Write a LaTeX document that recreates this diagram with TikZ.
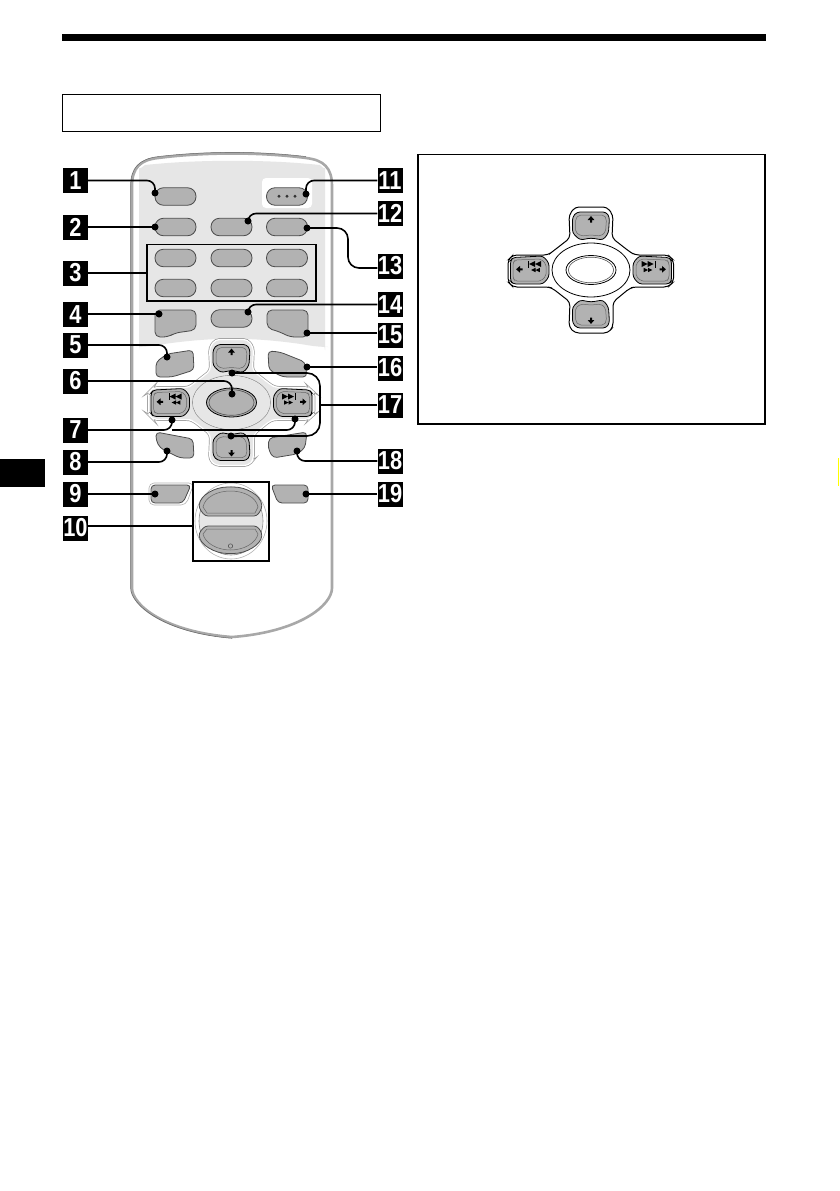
\documentclass[tikz,border=0pt]{standalone}
\usepackage{fontspec}
\setmainfont{Liberation Sans}
\definecolor{btn}{HTML}{B2B2B2}
\definecolor{pan}{HTML}{E6E6E6}
\definecolor{edge}{HTML}{A8A8A8}
\definecolor{tabyellow}{HTML}{FFFF00}
\tikzset{
  num/.style={fill=black,text=white,minimum width=25pt,minimum height=25pt,inner sep=0pt,font=\bfseries\fontsize{26}{26}\selectfont},
  pill/.style={draw=black!70,line width=.8pt,fill=btn,rounded corners=8.5pt,minimum width=41pt,minimum height=17.5pt,inner sep=0pt},
  shaped/.style={draw=black!70,line width=.8pt,fill=btn,rounded corners=3pt},
  dot/.style={circle,fill=black,minimum size=7pt,inner sep=0pt},
  leader/.style={line width=1.6pt,rounded corners=8pt},
  frame/.style={draw=black,line width=1.3pt},
}
\newcommand{\numnode}[4]{\node[num] (#1) at (#2,#3) {\scalebox{.84}[1]{#4}};}
\newcommand{\arrU}[2]{\fill[shift={(#1,#2)}] (-3.4,.7)--(0,-3.2)--(3.4,.7)--(1,.7)--(1,3.2)--(-1,3.2)--(-1,.7)--cycle;}
\newcommand{\arrD}[2]{\fill[shift={(#1,#2)}] (-3.4,-.7)--(0,3.2)--(3.4,-.7)--(1,-.7)--(1,-3.2)--(-1,-3.2)--(-1,-.7)--cycle;}
\newcommand{\arrL}[2]{\fill[shift={(#1,#2)}] (.7,-3.4)--(-3.2,0)--(.7,3.4)--(.7,1)--(3.2,1)--(3.2,-1)--(.7,-1)--cycle;}
\newcommand{\arrR}[2]{\fill[shift={(#1,#2)}] (-.7,-3.4)--(3.2,0)--(-.7,3.4)--(-.7,1)--(-3.2,1)--(-3.2,-1)--(-.7,-1)--cycle;}
% x, y, size, direction
\newcommand{\dbl}[4]{\fill[shift={(#1,#2)},scale=#3,xscale=#4] (0,-3)--(-6,0)--(0,3)--cycle (6,-3)--(0,0)--(6,3)--cycle;}
% cx, cy, ring fill, outline colour, mode (1 main, 0 inset), oval fill
\newcommand{\pad}[6]{%
\begin{scope}[shift={(#1,#2)}]
 \def\padoutline{(-21,-32)--(-22,-55)--(-16,-63)--(16,-63)--(22,-55)--(21,-32)--(39,-18)--(44,-15)--(77,-15)--(82.5,-10)--(82.5,12)--(77,17)--(44,17)--(39,18)--(22,32)--(22,57)--(17,63)--(-16,63)--(-22,57)--(-21,32)--(-39,18)--(-43,17)--(-78,17)--(-83,12)--(-83,-10)--(-78,-15)--(-43,-15)--(-39,-18)--cycle}
 \ifnum#5=1
  \draw[draw=#4,line width=2.6pt,rounded corners=4pt] \padoutline;
  \draw[draw=white,line width=1.2pt,fill=#3,rounded corners=4pt] \padoutline;
 \else
  \draw[draw=#4,line width=1pt,fill=#3,rounded corners=4pt] \padoutline;
 \fi
 \draw[draw=#4,line width=.8pt,fill=white] (0,0) ellipse (39 and 27);
 \ifnum#5=1 \fill[pan] (0,0) ellipse (38.5 and 26.5);\fi
 \draw[draw=black,line width=.8pt,fill=#6] (0,0) ellipse (25 and 14.5);
 \draw[draw=black!70,line width=.6pt] (0,0) ellipse (22.5 and 12.8);
 \foreach \s/\t in {1/1,1/-1}{
  \draw[shaped,draw=black,yscale=\t] (-14,-58)--(15,-58)--(18.5,-53)--(17.5,-37)--(12,-30)--(0,-32)--(-11,-30)--(-18.5,-37)--(-18.5,-53)--cycle;
  \draw[draw=black!60,line width=.5pt,rounded corners=2pt,yscale=\t] (-12,-55)--(13,-55)--(15.5,-51)--(14.5,-38)--(10,-34)--(0,-35)--(-10,-34)--(-15.5,-38)--(-15.5,-51)--cycle;
  \draw[shaped,draw=black,xscale=\t] (-78,-12.5)--(-48,-14)--(-42,-7)--(-42,7)--(-48,14)--(-78,14)--(-80.5,11)--(-80.5,-9.5)--cycle;
  \draw[draw=black!60,line width=.5pt,rounded corners=2pt,xscale=\t] (-76,-10)--(-50,-11)--(-45,-6)--(-45,6)--(-50,11)--(-76,11)--(-78,8)--(-78,-7)--cycle;
 }
 \arrU{0}{-50.7}\arrD{0}{50.7}\arrL{-71.7}{-.7}\arrR{71.7}{-.7}
 \dbl{-56}{-6}{1}{1}\dbl{56.5}{-6}{1}{-1}
 \dbl{-55.5}{0}{.72}{1}\dbl{57}{0}{.72}{-1}
 \fill (-63,-9.5) rectangle (-62,-2.5);
 \fill (63.5,-9.5) rectangle (64.5,-2.5);
\end{scope}}
\begin{document}
\begin{tikzpicture}[x=1pt,y=-1pt]
\useasboundingbox (0,0) rectangle (839,1191);
% page furniture
\fill (62,34) rectangle (766,41);
\draw[line width=.9pt] (62.5,94) rectangle (380,131);
\fill (0,459) rectangle (45,487);
\fill[tabyellow] (837.6,458) rectangle (839,486);
\draw[frame,line width=1.4pt] (418,154.5) rectangle (765,424);
% remote body
\draw[draw=edge,line width=2.6pt,fill=white] (132,186) .. controls (132,168) and (140,160) .. (158,158) .. controls (205,152) and (260,152) .. (306,158) .. controls (324,160) and (332,168) .. (332,186) -- (332,588) .. controls (332,605) and (300,632) .. (232,637) .. controls (165,632) and (132,605) .. (132,588) -- cycle;
\draw[draw=black!60,line width=.5pt] (130.6,186) .. controls (130.6,168) and (139,159) .. (158,156.6) .. controls (205,151) and (260,151) .. (306,156.6);
\draw[draw=black!60,line width=.5pt] (130.6,186) -- (130.6,588) .. controls (130.6,605) and (165,633) .. (232,638.3);
% panel
\fill[pan,rounded corners=10pt] (139,178) .. controls (139,170) and (145,165) .. (155,164) .. controls (205,160) and (260,160) .. (310,164) .. controls (320,165) and (325,170) .. (325,178) -- (325,340) .. controls (325,345) and (322,347) .. (318,347) .. controls (290,342) and (260,339) .. (232,339) .. controls (205,339) and (175,342) .. (146,347) .. controls (142,347) and (139,345) .. (139,340) -- cycle;
\fill[white,rounded corners=4pt] (262,178) rectangle (312,208);
% main pill buttons
\node[pill] (b1) at (175.5,196.5) {};
\node[pill] (b11) at (287,196.5) {};
\foreach \x in {-8,0,8} \fill[black!80] (287+\x,194.6) -- +(1.6,1.6) -- +(0,3.2) -- +(-1.6,1.6) -- cycle;
\node[pill] (b2) at (175.5,227) {};
\node[pill] (b12) at (231.5,227) {};
\node[pill] (b13) at (287,227) {};
\node[pill] (c1) at (175.5,258) {};
\node[pill] (c2) at (231.5,258) {};
\node[pill] (c3) at (287,258) {};
\node[pill] (c4) at (175.5,288) {};
\node[pill] (c5) at (231.5,288) {};
\node[pill] (c6) at (287,288) {};
\node[pill] (b14) at (231.5,318.5) {};
\draw[frame] (147,244.5) rectangle (316,301);
\draw[shaped,rounded corners=5pt] (155,310)--(196,310)--(196,330)--(175,333)--(168,337)--(155,337)--cycle;
\draw[shaped,rounded corners=5pt] (267,310)--(308,310)--(308,337)--(290,337)--(280,332)--(267,328)--cycle;
\draw[shaped,rounded corners=4pt] (156,377)--(156,362)--(167,354)--(193,350)--(194,370)--(172,377)--cycle;
\draw[shaped,rounded corners=4pt] (268,351)--(280,352)--(305,362)--(307,377)--(283,377)--(269,370)--cycle;
% d-pad
\pad{231.5}{402.5}{pan}{black!40}{1}{btn}
\draw[shaped,rounded corners=4pt] (156,432)--(193,439)--(194,458)--(180,458)--(160,448)--(156,440)--cycle;
\draw[shaped,rounded corners=4pt] (269,438)--(307,432)--(305,448)--(297,454)--(273,458)--(268,448)--cycle;
% lower row
\draw[draw=black!30,line width=.6pt,rounded corners=5pt] (149,483)--(194,483)--(186,505)--(149,505)--cycle;
\draw[shaped,rounded corners=4pt] (151,485)--(191,485)--(183,503)--(151,503)--cycle;
\draw[shaped,rounded corners=4pt] (271,485)--(308,485)--(308,503)--(278,503)--cycle;
% volume
\draw[draw=black!30,line width=.6pt] (231,521) ellipse (36 and 38);
\draw[draw=black!45,line width=.6pt,fill=pan] (231,521) ellipse (32 and 34);
\draw[shaped] (199,508) .. controls (200,495) and (215,487) .. (230.5,487) .. controls (246,487) and (261,495) .. (262,508) -- (257,516) -- (205,516) -- cycle;
\draw[shaped] (205,526) -- (257,526) -- (262,533) .. controls (261,545) and (246,553.5) .. (230.5,553.5) .. controls (215,553.5) and (200,545) .. (199,533) -- cycle;
\draw[draw=black!60,line width=.5pt] (203,507) .. controls (205,497) and (217,491) .. (230.5,491) .. controls (244,491) and (256,497) .. (258,507) -- (255,513) -- (207,513) -- cycle;
\draw[draw=black!60,line width=.5pt] (207,529) -- (255,529) -- (258,534) .. controls (256,543) and (244,550) .. (230.5,550) .. controls (217,550) and (205,543) .. (203,534) -- cycle;
\draw[draw=black!70,line width=.5pt] (230.5,546) circle (2.2);
\draw[frame] (193,482) rectangle (269,561);
% inset d-pad
\pad{591}{270}{white}{black}{0}{white}
% dots
\foreach \n/\x/\y in {d1/155/193,d2/155/227,d4/159/314,d5/167/357,d6/232/394,d7a/172/420,d7b/295/419,d8/167/451,d9/155/494,d11/306/194,d12/248/221,d13/307/228,d14/248/312,d15/307/333,d16/307/367,d17a/232/373,d17b/231/436,d18/297/451,d19/306/494}
  \node[dot] (\n) at (\x,\y) {};
% labels
\numnode{l1}{75.5}{180.5}{1}
\numnode{l2}{75.5}{227.5}{2}
\numnode{l3}{75.5}{273}{3}
\numnode{l4}{75.5}{314.5}{4}
\numnode{l5}{75.5}{345}{5}
\numnode{l6}{75.5}{381}{6}
\numnode{l7}{75.5}{430}{7}
\numnode{l8}{75.5}{462}{8}
\numnode{l9}{75.5}{494}{9}
\numnode{l10}{75.5}{528}{10}
\numnode{l11}{390}{180.5}{11}
\numnode{l12}{390}{213.5}{12}
\numnode{l13}{390}{266}{13}
\numnode{l14}{390}{304.5}{14}
\numnode{l15}{390}{335}{15}
\numnode{l16}{390}{368}{16}
\numnode{l17}{390}{405}{17}
\numnode{l18}{390}{461}{18}
\numnode{l19}{390}{494}{19}
% leaders
\draw[leader] (l1.east) -| (d1.center);
\draw[leader] (l2.east |- d2) -- (d2.center);
\coordinate (k3) at (147,273); \draw[leader] (l3.east) -- (k3);
\draw[leader] (l4.east |- d4) -- (d4.center);
\draw[leader] (l5.east) -| (d5.center);
\draw[leader] (l6.east) -| (d6.center);
\coordinate (k7) at (172,430);
\draw[leader] (l7.east) -- (k7) -- (d7a.center);
\draw[leader] (k7) -| (d7b.center);
\draw[leader] (l8.east) -| (d8.center);
\draw[leader] (l9.east |- d9) -- (d9.center);
\coordinate (k10) at (193,526); \draw[leader] (l10.east |- k10) -- (k10);
\draw[leader] (l11.west) -| (d11.center);
\draw[leader] (l12.west) -| (d12.center);
\draw[leader,rounded corners=11pt] (d13.center) -- (348,228) -- (348,268) -- (l13.west |- 0,268);
\draw[leader] (l14.west) -| (d14.center);
\draw[leader] (l15.west |- d15) -- (d15.center);
\draw[leader] (l16.west |- d16) -- (d16.center);
\coordinate (k17) at (320,405);
\draw[leader] (l17.west) -- (k17);
\draw[leader,rounded corners=13pt] (d17a.center) -- (320,373) -- (320,436) -- (d17b.center);
\draw[leader] (l18.west) -| (d18.center);
\draw[leader] (l19.west |- d19) -- (d19.center);
\end{tikzpicture}
\end{document}
